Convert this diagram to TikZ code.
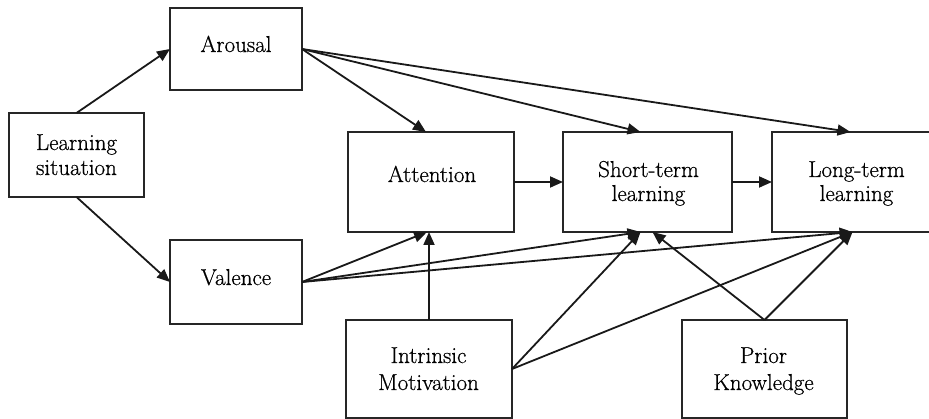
\documentclass[tikz,border=0pt]{standalone}
\usepackage{fontspec}
\newfontfamily\diagfont{Latin Modern Roman}[FakeBold=0.6]
\usetikzlibrary{arrows.meta,calc}
\begin{document}
\begin{tikzpicture}[x=1pt,y=-1pt,
  box/.style={draw=black!85, line width=1.8pt, rectangle, inner sep=0pt, outer sep=0pt},
  txt/.style={font=\diagfont\fontsize{23}{25}\selectfont, align=center, inner sep=0pt, anchor=base, text=black},
  arr/.style={line width=1.8pt, draw=black!90, -{Triangle[length=13pt,width=11pt]}}]
\useasboundingbox (0,0) rectangle (929,419);
\clip (0,0) rectangle (929,419);
% boxes
\node[box, minimum width=135pt, minimum height=84pt] (ls) at (76.5,155) {};
\node[box, minimum width=132pt, minimum height=82pt] (aro) at (236,49) {};
\node[box, minimum width=132pt, minimum height=84pt] (val) at (236,282) {};
\node[box, minimum width=166pt, minimum height=100pt] (att) at (431,182) {};
\node[box, minimum width=169pt, minimum height=100pt] (stl) at (647.5,182) {};
\node[box, minimum width=169pt, minimum height=100pt] (ltl) at (856.5,182) {};
\node[box, minimum width=166pt, minimum height=98pt] (im) at (429,369) {};
\node[box, minimum width=165pt, minimum height=98pt] (pk) at (764.5,369) {};
% texts
\node[txt] (ls-a) at (76.5,150) {Learning};
\node[txt] (ls-b) at (76.5,175) {situation};
\node[txt] (aro-t) at (236,52) {Arousal};
\node[txt] (val-t) at (236,285) {Valence};
\node[txt] (att-t) at (432,182) {Attention};
\node[txt] (stl-a) at (648.5,177) {Short-term};
\node[txt] (stl-b) at (648.5,201) {learning};
\node[txt] (ltl-a) at (856.5,177) {Long-term};
\node[txt] (ltl-b) at (856.5,201) {learning};
\node[txt] (im-a) at (428.5,363) {Intrinsic};
\node[txt] (im-b) at (428.5,390) {Motivation};
\node[txt] (pk-a) at (763.5,363) {Prior};
\node[txt] (pk-b) at (763.5,390) {Knowledge};
% connectors
\draw[arr] (ls.north) -- (aro.west);
\draw[arr] (ls.south) -- (val.west);
\draw[arr] (aro.east) -- ($(att.north)+(-5,0)$);
\draw[arr] (aro.east) -- ($(stl.north)+(-7,0)$);
\draw[arr] (aro.east) -- ($(ltl.north)+(-6,0)$);
\draw[arr] (val.east) -- ($(att.south)+(-4,0)$);
\draw[arr] (val.east) -- ($(stl.south)+(-7,0)$);
\draw[arr] (val.east) -- ($(ltl.south)+(-4,0)$);
\draw[arr] (im.north) -- (im.north |- att.south);
\draw[arr] (im.east) -- ($(stl.south)+(-7,0)$);
\draw[arr] (im.east) -- ($(ltl.south)+(-4,0)$);
\draw[arr] (pk.north) -- ($(stl.south)+(5,0)$);
\draw[arr] (pk.north) -- ($(ltl.south)+(-4,0)$);
\draw[arr] (att.east) -- (stl.west);
\draw[arr] (stl.east) -- (ltl.west);
\end{tikzpicture}
\end{document}
